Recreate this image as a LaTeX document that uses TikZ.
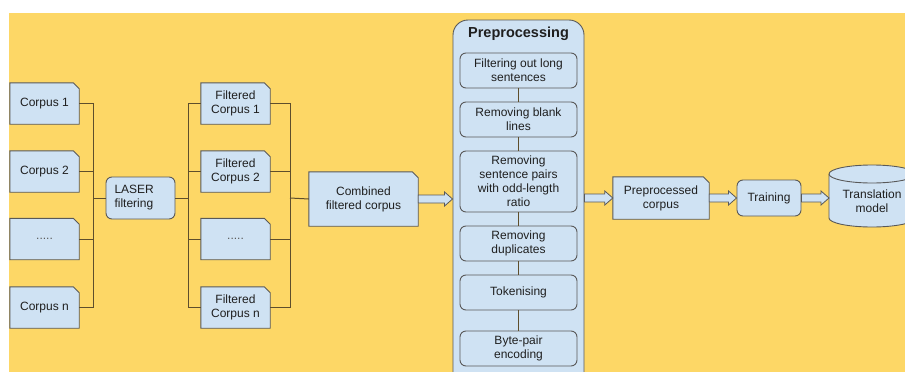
\documentclass[tikz,border=0pt]{standalone}
\usepackage{fontspec}
\setmainfont{Liberation Sans}
\usetikzlibrary{calc,backgrounds}
\definecolor{bgy}{HTML}{FDD766}
\definecolor{boxf}{HTML}{CFE2F3}
\definecolor{boxd}{HTML}{595959}
\definecolor{linec}{HTML}{5E4E2C}
\newcommand\docshape[1]{\filldraw[docline] (#1.south west) -- (#1.north west) -- ([xshift=-6pt]#1.north east) -- ([yshift=-6pt]#1.north east) -- (#1.south east) -- cycle;}
\newcommand\harrow[2]{\filldraw[arrowst] let \p1=(#1), \p2=(#2) in (\x1,\y1+4pt) -- (\x2-8pt,\y1+4pt) -- (\x2-8pt,\y1+7pt) -- (\x2,\y1) -- (\x2-8pt,\y1-7pt) -- (\x2-8pt,\y1-4pt) -- (\x1,\y1-4pt) -- cycle;}
\begin{document}
\begin{tikzpicture}[x=1pt,y=-1pt,
  every node/.style={font=\fontsize{12}{14}\selectfont, align=center, inner sep=0pt, text=black!88},
  doc/.style={minimum width=69pt, minimum height=41pt},
  docline/.style={draw=boxd, fill=boxf, line width=0.9pt},
  rbox/.style={draw=boxd, fill=boxf, line width=0.9pt, rounded corners=6pt},
  ibox/.style={rbox, minimum width=117pt, minimum height=35pt},
  conn/.style={draw=linec, line width=1pt},
  arrowst/.style={draw=boxd, fill=boxf, line width=0.8pt, line join=miter},
  cyl/.style={draw=boxd, fill=boxf, line width=0.9pt}]
\useasboundingbox (0,0) rectangle (905,372);
\clip (0,0) rectangle (905,372);
\begin{pgfonlayer}{background}
\fill[white] (0,0) rectangle (905,372);
\fill[bgy] (9,13) rectangle (905,372);
\end{pgfonlayer}

% corpora
\node[doc] (c1) at (44.5,103.5) {Corpus 1};
\node[doc] (c2) at (44.5,171.5) {Corpus 2};
\node[doc] (c3) at (44.5,239) {\textcolor{boxd}{.....}};
\node[doc] (c4) at (44.5,307.5) {Corpus n};
% laser
\node[rbox, minimum width=69pt, minimum height=42pt, text width=52pt, align=left] (laser) at (140.5,198) {LASER\\filtering};
% filtered
\node[doc] (f1) at (235.5,103.5) {Filtered\\Corpus 1};
\node[doc] (f2) at (235.5,171.5) {Filtered\\Corpus 2};
\node[doc] (f3) at (235.5,239) {\textcolor{boxd}{.....}};
\node[doc] (f4) at (235.5,307.5) {Filtered\\Corpus n};
% combined
\node[minimum width=109pt, minimum height=54pt] (comb) at (363.5,199) {Combined\\filtered corpus};

% preprocessing container
\node[rbox, rounded corners=15pt, minimum width=131pt, minimum height=380pt] (prep) at (518.5,210) {};
\node[font=\bfseries\fontsize{14.5}{17}\selectfont] (ptitle) at (518.5,34) {Preprocessing};
\node[ibox] (p1) at (518.5,70.5) {Filtering out long\\sentences};
\node[ibox] (p2) at (518.5,119.5) {Removing blank\\lines};
\node[ibox, minimum height=61pt] (p3) at (518.5,181.5) {Removing\\sentence pairs\\with odd-length\\ratio};
\node[ibox] (p4) at (518.5,243.5) {Removing\\duplicates};
\node[ibox] (p5) at (518.5,292.5) {Tokenising};
\node[ibox] (p6) at (518.5,348.5) {Byte-pair\\encoding};

% right side
\node[minimum width=96pt, minimum height=42pt] (ppc) at (661,198) {Preprocessed\\corpus};
\node[rbox, minimum width=64pt, minimum height=36pt] (train) at (769,198) {Training};
\node (tm) at (872,201) {Translation\\model};
\coordinate (cylw) at (829,198);

\begin{pgfonlayer}{background}
\docshape{c1}\docshape{c2}\docshape{c3}\docshape{c4}
\docshape{f1}\docshape{f2}\docshape{f3}\docshape{f4}
\docshape{comb}\docshape{ppc}
\filldraw[cyl] (829,174) -- (829,218) arc[start angle=180, end angle=360, x radius=43pt, y radius=9pt] -- (915,174) arc[start angle=0, end angle=180, x radius=43pt, y radius=9pt] -- cycle;
\draw[cyl, fill=none] (829,174) arc[start angle=180, end angle=360, x radius=43pt, y radius=9pt];
\end{pgfonlayer}

% brackets
\coordinate (bL) at (93,198);
\coordinate (bM) at (188,198);
\coordinate (bR) at (290,198);
\foreach \n in {c1,c2,c3,c4} \draw[conn] (\n.east) -| (bL);
\draw[conn] (bL) -- (laser.west);
\draw[conn] (laser.east) -- (bM);
\foreach \n in {f1,f2,f3,f4} \draw[conn] (bM) |- (\n.west);
\foreach \n in {f1,f2,f3,f4} \draw[conn] (\n.east) -| (bR);
\draw[conn] (bR) -- (comb.west);

% inner connectors
\draw[conn] (p1.south) -- (p2.north);
\draw[conn] (p2.south) -- (p3.north);
\draw[conn] (p3.south) -- (p4.north);
\draw[conn] (p4.south) -- (p5.north);
\draw[conn] (p5.south) -- (p6.north);

% hollow arrows
\harrow{comb.east}{prep.west |- comb.east}
\harrow{prep.east |- ppc.west}{ppc.west}
\harrow{ppc.east}{train.west}
\harrow{train.east}{cylw}
\end{tikzpicture}
\end{document}
